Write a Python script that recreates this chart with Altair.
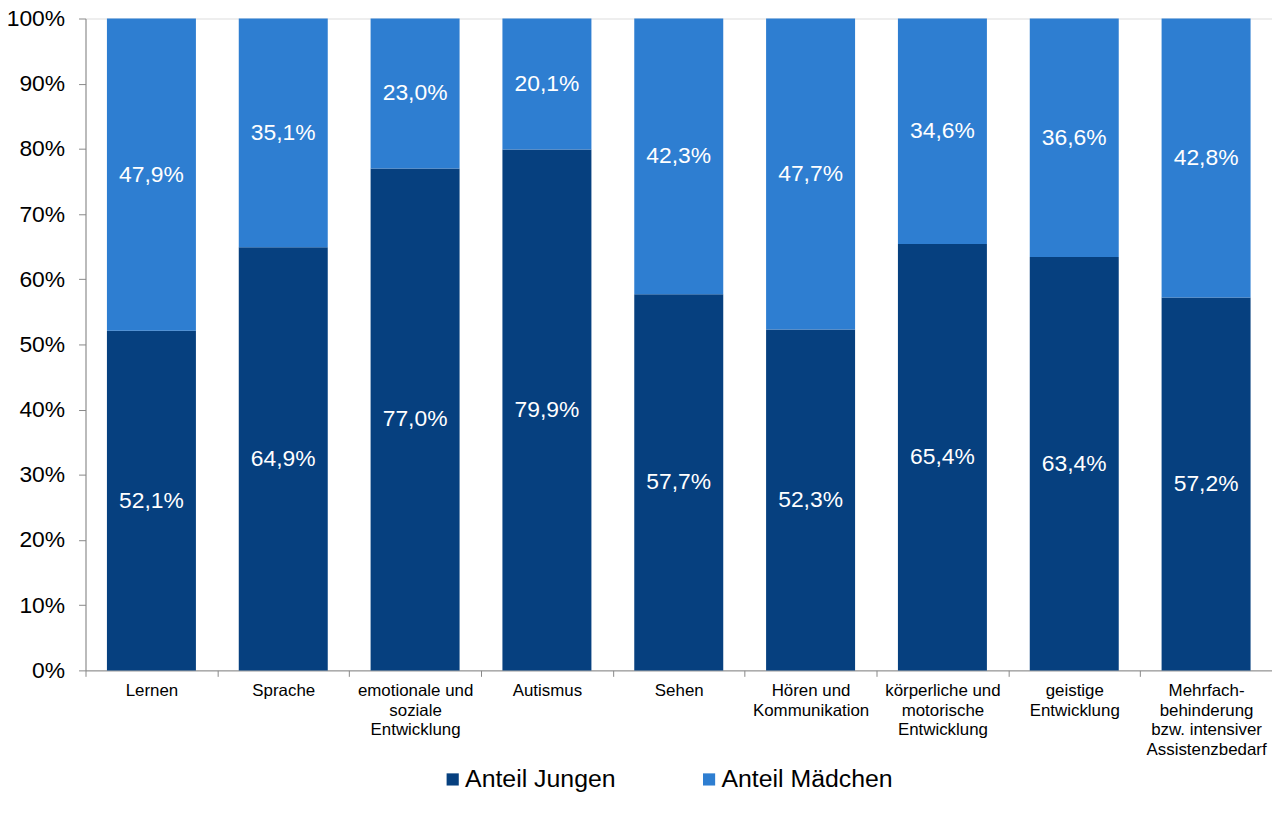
import altair as alt
import pandas as pd

categories = [
    "Lernen", "Sprache", "emotionale und\nsoziale\nEntwicklung", "Autismus", "Sehen",
    "Hören und\nKommunikation", "körperliche und\nmotorische\nEntwicklung",
    "geistige\nEntwicklung", "Mehrfach-\nbehinderung\nbzw. intensiver\nAssistenzbedarf",
]
jungen = [52.1, 64.9, 77.0, 79.9, 57.7, 52.3, 65.4, 63.4, 57.2]
maedchen = [47.9, 35.1, 23.0, 20.1, 42.3, 47.7, 34.6, 36.6, 42.8]
series = ["Anteil Jungen", "Anteil Mädchen"]
colors = ["#06407f", "#2e7ed1"]

rows = []
for i, c in enumerate(categories):
    base = 0.0
    for s, vals in zip(series, [jungen, maedchen]):
        v = vals[i]
        rows.append({
            "cat": c, "series": s, "value": v, "order": series.index(s),
            "mid": base + v / 2,
            "label": f"{v:.1f}".replace(".", ",") + "%",
        })
        base += v
df = pd.DataFrame(rows)

FONT = "Liberation Sans"
W = 1194
H = 656
STEP = W / len(categories)

x_enc = alt.X(
    "cat:N", sort=categories, title=None,
    scale=alt.Scale(paddingInner=0.325, paddingOuter=0.1625),
    axis=alt.Axis(
        labelAngle=0, labelExpr="split(datum.label, '\\n')", labelFontSize=17,
        labelLineHeight=20, labelColor="#000000", labelFont=FONT,
        labelBaseline="top", labelPadding=6, tickSize=6, tickOffset=-STEP / 2,
        labelOffset=STEP / 2, domainColor="#888888", tickColor="#888888",
        labelLimit=200,
    ),
)

bars = alt.Chart(df).mark_bar().encode(
    x=x_enc,
    y=alt.Y(
        "value:Q", stack="zero", title=None,
        scale=alt.Scale(domain=[0, 100], nice=False),
        axis=alt.Axis(
            values=list(range(0, 101, 10)), labelExpr="datum.value + '%'",
            labelFontSize=23, labelColor="#000000", labelFont=FONT,
            tickSize=7, labelPadding=14, grid=False,
            domainColor="#888888", tickColor="#888888",
        ),
    ),
    color=alt.Color(
        "series:N", scale=alt.Scale(domain=series, range=colors), title=None,
        legend=alt.Legend(
            orient="none", direction="horizontal", legendX=357, legendY=H + 97,
            symbolType="square", symbolSize=150, symbolStrokeWidth=0,
            labelFontSize=25, labelFont=FONT, labelColor="#000000",
            columnPadding=81, labelOffset=0, padding=0, labelLimit=400,
        ),
    ),
    order=alt.Order("order:Q"),
)

texts = alt.Chart(df).mark_text(
    color="white", fontSize=23, font=FONT, baseline="middle"
).encode(
    x=alt.X("cat:N", sort=categories),
    y=alt.Y("mid:Q"),
    text="label:N",
)

chart = alt.layer(bars, texts).properties(
    width=W, height=H,
    autosize=alt.AutoSizeParams(type="none"),
    padding={"left": 78, "top": 8, "right": 0, "bottom": 150},
).configure_view(stroke=None).configure(font=FONT)

chart.save("out.html", embed_options={"renderer": "svg", "actions": False})
